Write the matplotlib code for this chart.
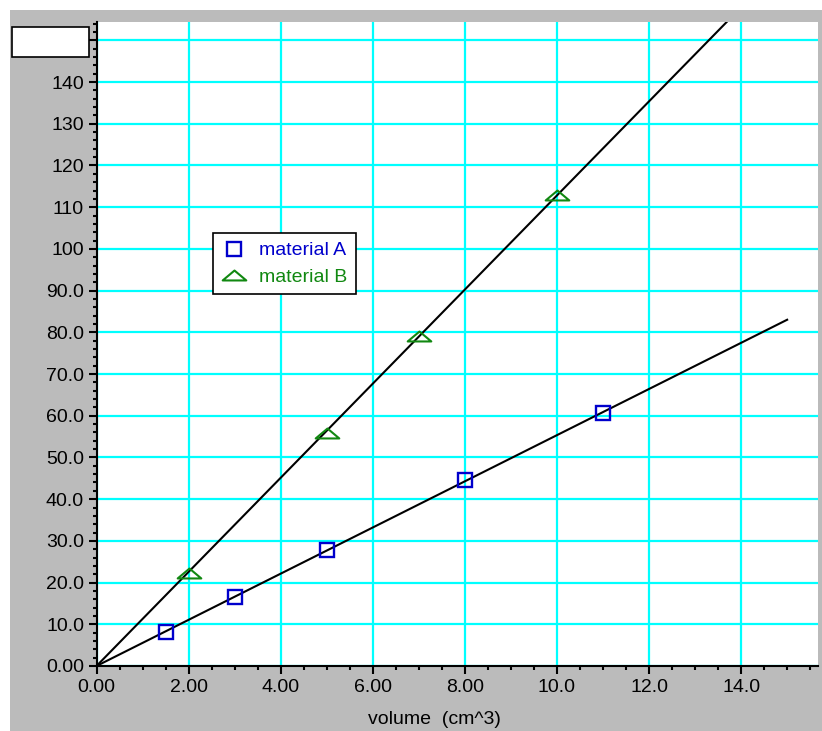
import numpy as np
import matplotlib
matplotlib.use("Agg")
import matplotlib.pyplot as plt
from matplotlib.path import Path
from matplotlib.patches import Rectangle

plt.rcParams['font.family'] = ['Liberation Sans', 'DejaVu Sans']

# Data
vol_a = [1.5, 3.0, 5.0, 8.0, 11.0]
mass_a = [8.2, 16.6, 27.8, 44.6, 60.6]
vol_b = [2.0, 5.0, 7.0, 10.0]
mass_b = [22.4, 55.9, 79.1, 113.0]
label_a = "material A"
label_b = "material B"
x_ticks = [0, 2, 4, 6, 8, 10, 12, 14]
x_ticklabels = ["0.00", "2.00", "4.00", "6.00", "8.00", "10.0", "12.0", "14.0"]
y_ticks = [0, 10, 20, 30, 40, 50, 60, 70, 80, 90, 100, 110, 120, 130, 140, 150]
y_ticklabels = ["0.00", "10.0", "20.0", "30.0", "40.0", "50.0", "60.0", "70.0",
                "80.0", "90.0", "100", "110", "120", "130", "140", ""]
x_label = "volume  (cm^3)"

W, H = 822, 731
fig = plt.figure(figsize=(W / 100, H / 100), dpi=100)
fig.patch.set_facecolor('white')
# gray panel
fig.add_artist(Rectangle((10 / W, 0), 1 - 10 / W, 1 - 10 / H, transform=fig.transFigure,
                         facecolor='#bbbbbb', edgecolor='none', zorder=0))

ax = fig.add_axes([96.5 / W, 65 / H, 721.5 / W, 644 / H])
ax.set_facecolor('white')
ax.set_zorder(1)

ax.set_xlim(0, 15.67)
ax.set_ylim(0, 154.4)

ax.set_xticks(x_ticks)
ax.set_xticklabels(x_ticklabels)
ax.set_yticks(y_ticks)
ax.set_yticklabels(y_ticklabels)
ax.set_xticks(np.arange(0, 15.6, 0.5), minor=True)
ax.set_yticks(np.arange(0, 154.4, 2), minor=True)

ax.grid(True, which='major', color='#00ffff', linewidth=1.6, zorder=0)
ax.set_axisbelow(True)

for s in ['top', 'right']:
    ax.spines[s].set_visible(False)
for s in ['left', 'bottom']:
    ax.spines[s].set_linewidth(1.5)
    ax.spines[s].set_color('black')

ax.tick_params(which='major', direction='out', length=6, width=1.5, labelsize=14, colors='black', pad=3)
ax.tick_params(which='minor', direction='out', length=3, width=1.5)

# fit lines through origin
xa = np.array(vol_a); ya = np.array(mass_a)
xb = np.array(vol_b); yb = np.array(mass_b)
ka = (xa * ya).sum() / (xa * xa).sum()
kb = (xb * yb).sum() / (xb * xb).sum()
xl = np.array([0, 15.0])
ax.plot(xl, ka * xl, color='black', lw=1.5, zorder=3)
ax.plot(xl, kb * xl, color='black', lw=1.5, zorder=3)

tri = Path([(-1, -0.42), (1, -0.42), (0, 0.42), (-1, -0.42)],
           [Path.MOVETO, Path.LINETO, Path.LINETO, Path.CLOSEPOLY])

ax.plot(vol_a, mass_a, linestyle='none', marker='s', markersize=10.5, markerfacecolor='none',
        markeredgecolor='#0000cc', markeredgewidth=1.7, label=label_a, zorder=4, clip_on=False)
ax.plot(vol_b, mass_b, linestyle='none', marker=tri, markersize=17, markerfacecolor='none',
        markeredgecolor='#118811', markeredgewidth=1.5, label=label_b, zorder=4, clip_on=False)

leg = ax.legend(loc='upper left', bbox_to_anchor=((213 - 96.5) / 721.5, (666 - 233) / 644),
                fontsize=14, frameon=True, fancybox=False, framealpha=1, edgecolor='black',
                handlelength=1.3, handletextpad=0.6, borderpad=0.45, labelspacing=0.45,
                borderaxespad=0)
leg.get_frame().set_linewidth(1.2)
for t, c in zip(leg.get_texts(), ['#0000cc', '#118811']):
    t.set_color(c)

ax.set_xlabel(x_label, fontsize=14, labelpad=8)
ax.xaxis.set_label_coords((434 - 96.5) / 721.5, -(720 - 666) / 644)
ax.xaxis.label.set_va('center')

# white box top-left
fig.add_artist(Rectangle((12 / W, 1 - 57 / H), 77 / W, 30 / H, transform=fig.transFigure,
                         facecolor='white', edgecolor='black', linewidth=1.2, zorder=5))

fig.savefig('out.png', dpi=100)
